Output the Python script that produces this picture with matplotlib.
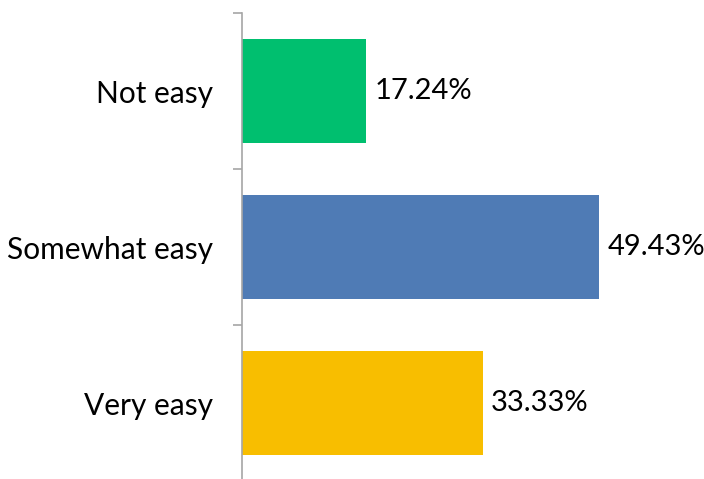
import matplotlib
matplotlib.use('Agg')
import matplotlib.pyplot as plt

plt.rcParams["font.family"] = ["Lato", "DejaVu Sans"]

categories = ['Not easy', 'Somewhat easy', 'Very easy']
values = [17.24, 49.43, 33.33]
colors = ['#00BF6F', '#4F7BB5', '#F8BE00']

fig = plt.figure(figsize=(7.04, 4.79), dpi=100)
ax = fig.add_axes([242 / 704, -2 / 479, 433 / 704, 468 / 479])

pos = list(range(len(categories)))
ax.barh(pos, values, height=0.667, color=colors)
for p, v in zip(pos, values):
    ax.text(v + 1.2, p, f'{v:.2f}%', va='center', ha='left', fontsize=21)

ax.set_xlim(0, 60)
ax.set_ylim(2.5, -0.5)
ax.set_yticks(pos)
ax.set_yticklabels(categories, fontsize=21.5)
ax.set_yticks([-0.5, 0.5, 1.5, 2.5], minor=True)
ax.tick_params(axis='y', which='major', length=0, pad=21)
ax.tick_params(axis='y', which='minor', length=6.5, color='#A6A6A6', width=1.2)
ax.set_xticks([])
for s in ['top', 'right', 'bottom']:
    ax.spines[s].set_visible(False)
ax.spines['left'].set_color('#A6A6A6')
ax.spines['left'].set_linewidth(1.2)

fig.savefig('out.png', dpi=100)
